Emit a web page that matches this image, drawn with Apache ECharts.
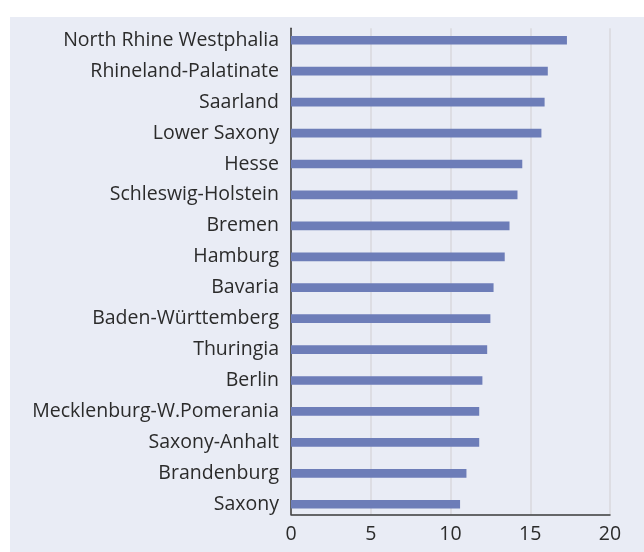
<!DOCTYPE html>
<html><head><meta charset="utf-8">
<script src="https://cdn.jsdelivr.net/npm/echarts@6/dist/echarts.min.js"></script>
<style>html,body{margin:0;padding:0;background:#fff}#c{width:644px;height:552px}</style>
</head><body><div id="c"></div>
<script>
const categories = ["North Rhine Westphalia","Rhineland-Palatinate","Saarland","Lower Saxony","Hesse","Schleswig-Holstein","Bremen","Hamburg","Bavaria","Baden-Württemberg","Thuringia","Berlin","Mecklenburg-W.Pomerania","Saxony-Anhalt","Brandenburg","Saxony"];
const values = [17.3,16.1,15.9,15.7,14.5,14.2,13.7,13.4,12.7,12.5,12.3,12.0,11.8,11.8,11.0,10.6];
const xTicks = [0,5,10,15,20];

const FONT = "'Open Sans', 'Noto Sans', sans-serif";
const chart = echarts.init(document.getElementById('c'), null, {renderer:'canvas'});
chart.setOption({
  animation:false,
  graphic:[{type:'rect', z:-10, silent:true, shape:{x:10,y:17,width:634,height:535}, style:{fill:'#e9ecf5'}}],
  grid:[
    {left:291, right:34, top:24.8, bottom:32.3},
    {left:291, right:34, top:28.3, bottom:37.7}
  ],
  xAxis:[
    {gridIndex:0, type:'value', min:xTicks[0], max:xTicks[xTicks.length-1], interval:5, show:false, splitLine:{show:false}},
    {gridIndex:1, type:'value', min:xTicks[0], max:xTicks[xTicks.length-1], interval:5,
      axisLine:{show:true, lineStyle:{color:'#3a3a3a', width:1.5}}, axisTick:{show:false},
      axisLabel:{color:'#2b2b2b', fontSize:19.5, fontFamily:FONT, margin:10},
      splitLine:{show:true, lineStyle:{color:'#d9d9dc', width:1.5}}}
  ],
  yAxis:[
    {gridIndex:0, type:'category', data:categories, inverse:true,
      axisLine:{show:false}, axisTick:{show:false},
      axisLabel:{color:'#2b2b2b', fontSize:19.5, fontFamily:FONT, margin:12}},
    {gridIndex:1, type:'value', min:0, max:1, axisLine:{show:true, onZero:false, lineStyle:{color:'#3a3a3a', width:1.5}},
      axisTick:{show:false}, axisLabel:{show:false}, splitLine:{show:false}}
  ],
  series:[{type:'bar', xAxisIndex:0, yAxisIndex:0, data:values, barWidth:8.7,
    itemStyle:{color:'#6d7db8'}, z:3}]
});
</script></body></html>
